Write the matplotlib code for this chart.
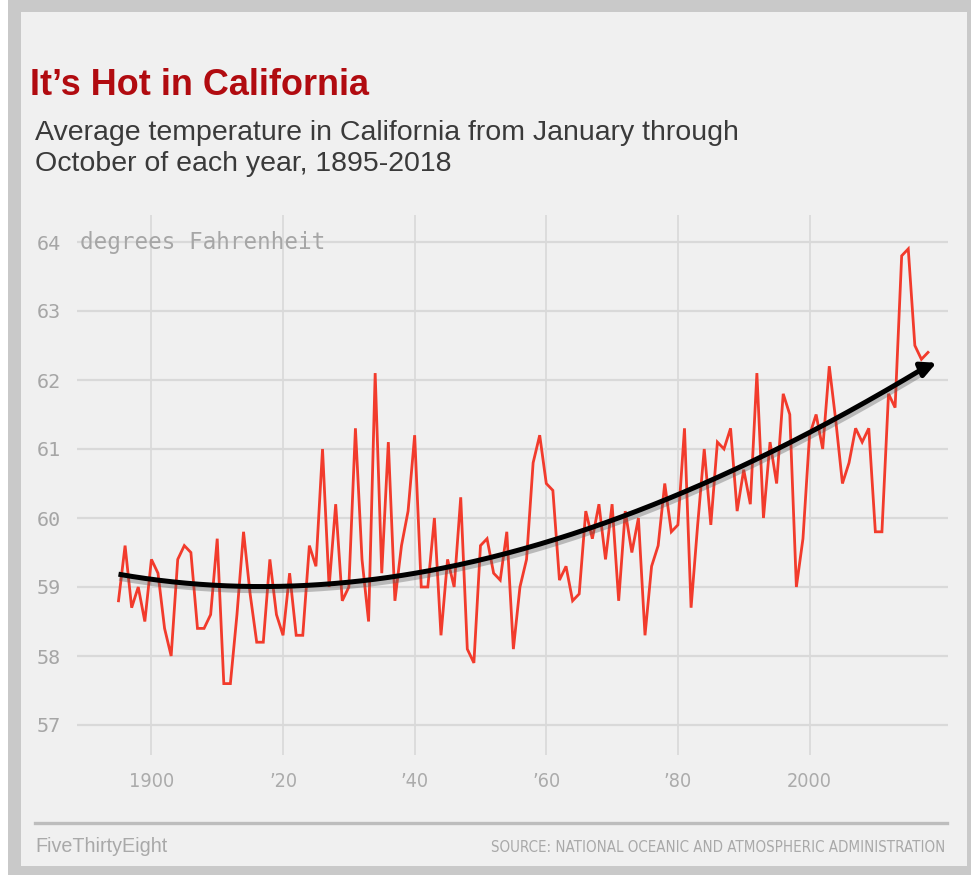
import numpy as np
import matplotlib
matplotlib.use("Agg")
import matplotlib.pyplot as plt
from matplotlib.patches import Rectangle
import matplotlib.patheffects as pe

# Average Jan-Oct temperature in California (deg F), 1895-2018
temps = [
    58.8, 59.6, 58.7, 59.0, 58.5,                                # 1895-1899
    59.4, 59.2, 58.4, 58.0, 59.4, 59.6, 59.5, 58.4, 58.4, 58.6,  # 1900s
    59.7, 57.6, 57.6, 58.6, 59.8, 58.9, 58.2, 58.2, 59.4, 58.6,  # 1910s
    58.3, 59.2, 58.3, 58.3, 59.6, 59.3, 61.0, 59.0, 60.2, 58.8,  # 1920s
    59.0, 61.3, 59.4, 58.5, 62.1, 59.2, 61.1, 58.8, 59.6, 60.1,  # 1930s
    61.2, 59.0, 59.0, 60.0, 58.3, 59.4, 59.0, 60.3, 58.1, 57.9,  # 1940s
    59.6, 59.7, 59.2, 59.1, 59.8, 58.1, 59.0, 59.4, 60.8, 61.2,  # 1950s
    60.5, 60.4, 59.1, 59.3, 58.8, 58.9, 60.1, 59.7, 60.2, 59.4,  # 1960s
    60.2, 58.8, 60.1, 59.5, 60.0, 58.3, 59.3, 59.6, 60.5, 59.8,  # 1970s
    59.9, 61.3, 58.7, 59.9, 61.0, 59.9, 61.1, 61.0, 61.3, 60.1,  # 1980s
    60.7, 60.2, 62.1, 60.0, 61.1, 60.5, 61.8, 61.5, 59.0, 59.7,  # 1990s
    61.2, 61.5, 61.0, 62.2, 61.4, 60.5, 60.8, 61.3, 61.1, 61.3,  # 2000s
    59.8, 59.8, 61.8, 61.6, 63.8, 63.9, 62.5, 62.3, 62.4,        # 2010-2018
]
years = np.arange(1895, 1895 + len(temps))

# long-run trend, ending in an arrow
trend_years = [1895, 1910, 1925, 1940, 1955, 1965, 1975, 1985, 2000, 2010, 2019.3]
trend_vals = [59.15, 59.08, 59.05, 59.18, 59.47, 59.80, 60.14, 60.55, 61.28, 61.78, 62.25]

y_ticks = [57, 58, 59, 60, 61, 62, 63, 64]
x_ticks = [1900, 1920, 1940, 1960, 1980, 2000]
x_tick_labels = ["1900", "\u201920", "\u201940", "\u201960", "\u201980", "2000"]

title = "It\u2019s Hot in California"
subtitle = ["Average temperature in California from January through",
            "October of each year, 1895-2018"]
unit_label = "degrees Fahrenheit"
brand = "FiveThirtyEight"
source = "SOURCE: NATIONAL OCEANIC AND ATMOSPHERIC ADMINISTRATION"

W, H = 971, 875
fig = plt.figure(figsize=(W / 100, H / 100), dpi=100)
fig.patch.set_facecolor("white")


def fx(px):
    return px / W


def fy(py):
    return 1 - py / H


# card frame and panel
fig.patches.append(Rectangle((fx(8), 0), fx(W - 8), 1, transform=fig.transFigure,
                             facecolor="#c9c9c9", edgecolor="none", zorder=-10))
fig.patches.append(Rectangle((fx(21), fy(866)), fx(967 - 21), (866 - 12) / H,
                             transform=fig.transFigure, facecolor="#f0f0f0",
                             edgecolor="none", zorder=-9))

# plot area
left_px, right_px, top_px, bot_px = 77, 948, 215, 755
ax = fig.add_axes([fx(left_px), fy(bot_px), fx(right_px - left_px), (bot_px - top_px) / H])
ax.set_facecolor("none")
px_per_year = (928 - 118.5) / 123
px_per_deg = (725 - 242) / 7
ax.set_xlim(1895 - (118.5 - left_px) / px_per_year, 2018 + (right_px - 928) / px_per_year)
ax.set_ylim(57 - (bot_px - 725) / px_per_deg, 64 + (242 - top_px) / px_per_deg)

for s in ax.spines.values():
    s.set_visible(False)

ax.set_yticks(y_ticks)
ax.set_yticklabels([str(v) for v in y_ticks], family="DejaVu Sans Mono",
                   fontsize=14.5, color="#a6a6a6")
for lab in ax.get_yticklabels():
    lab.set_horizontalalignment("left")
ax.tick_params(axis="y", length=0, pad=(left_px - 37) * 0.72)

ax.set_xticks(x_ticks)
ax.set_xticklabels(x_tick_labels, family="DejaVu Sans", stretch="condensed",
                   fontsize=14.2, color="#ababab")
ax.tick_params(axis="x", length=0, pad=12)

ax.grid(axis="y", color="#d9d9d9", linewidth=1.6, zorder=0)
ax.grid(axis="x", color="#d6d6d6", linewidth=1.1, zorder=0)
ax.set_axisbelow(True)

ax.text(1895 - (118.5 - 80) / px_per_year, 64, unit_label, family="DejaVu Sans Mono",
        fontsize=16.3, color="#a6a6a6", ha="left", va="center", zorder=1)

# temperature series
ax.plot(years, temps, color="#f23b2c", linewidth=2.0, zorder=3, solid_joinstyle="miter")

# smooth trend through the read values
coef = np.polyfit(trend_years, trend_vals, 3)
tx = np.linspace(trend_years[0], trend_years[-1] - 1.6, 300)
ty = np.polyval(coef, tx)
shadow = [pe.SimpleLineShadow(offset=(0.5, -3), shadow_color="#555555", alpha=0.35),
          pe.Normal()]
ax.plot(tx, ty, color="black", linewidth=3.6, zorder=4, solid_capstyle="butt",
        path_effects=shadow)
ax.annotate("", xy=(trend_years[-1], trend_vals[-1]),
            xytext=(tx[-2], ty[-2]),
            arrowprops=dict(arrowstyle="-|>,head_length=0.9,head_width=0.45",
                            color="black", lw=3.6, shrinkA=0, shrinkB=0),
            zorder=5)

# header
fig.text(fx(30), fy(95), title, family="Liberation Sans", weight="bold",
         fontsize=25.9, color="#b10b10", va="baseline", ha="left")
fig.text(fx(35), fy(140), subtitle[0], family="Liberation Sans", fontsize=20.5,
         color="#3a3a3a", va="baseline", ha="left")
fig.text(fx(35), fy(171), subtitle[1], family="Liberation Sans", fontsize=20.5,
         color="#3a3a3a", va="baseline", ha="left")

# footer
fig.add_artist(plt.Line2D([fx(35), fx(947)], [fy(823), fy(823)], transform=fig.transFigure,
                          color="#bdbdbd", linewidth=2.4))
fig.text(fx(35), fy(852), brand, family="Liberation Sans", fontsize=14.2,
         color="#a9a9a9", va="baseline", ha="left")
fig.text(fx(945), fy(852), source, family="DejaVu Sans", stretch="condensed",
         fontsize=10.8, color="#a9a9a9", va="baseline", ha="right")

fig.savefig("out.png", dpi=100, facecolor=fig.get_facecolor())
